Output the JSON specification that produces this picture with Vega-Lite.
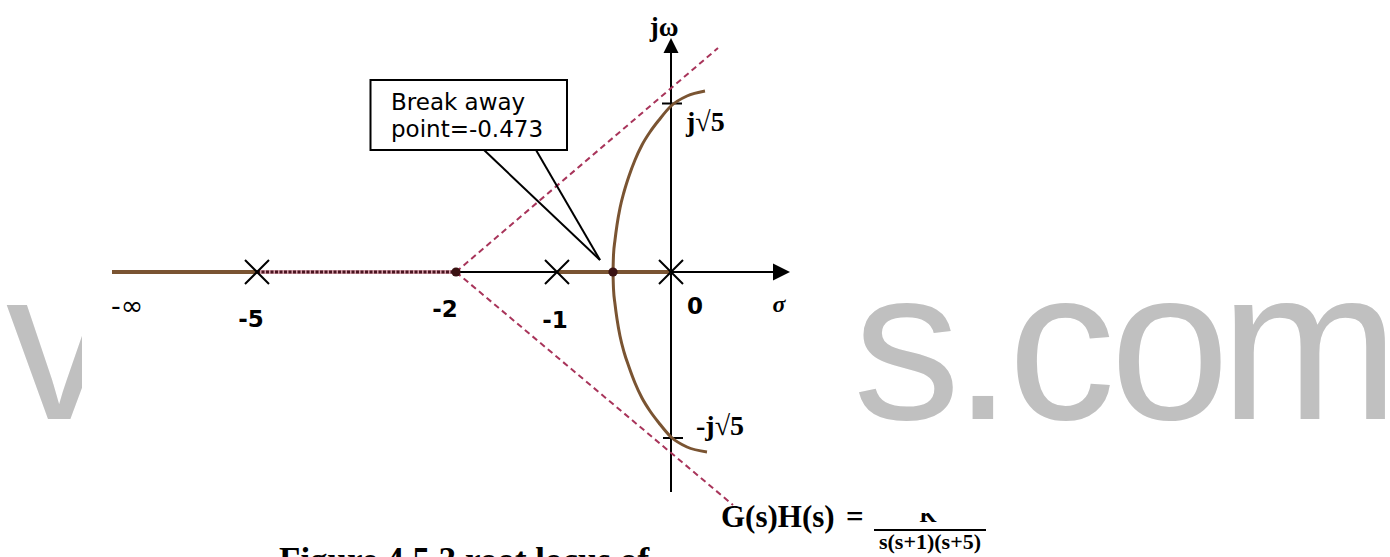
{
  "$schema": "https://vega.github.io/schema/vega-lite/v6.json",
  "width": 1390,
  "height": 557,
  "padding": 0,
  "autosize": {"type": "none"},
  "background": "white",
  "config": {"view": {"stroke": null}},
  "datasets": {
    "segments": [
      {"kind": "axis", "x": -559, "y": 0, "x2": 110, "y2": 0},
      {"kind": "axis", "x": 0, "y": -220, "x2": 0, "y2": 225},
      {"kind": "axis", "x": -9, "y": 168.5, "x2": 11, "y2": 168.5},
      {"kind": "axis", "x": -8, "y": -166, "x2": 12, "y2": -166},
      {"kind": "brown", "x": -559, "y": 0, "x2": -414, "y2": 0},
      {"kind": "brown", "x": -114, "y": 0, "x2": 0, "y2": 0},
      {"kind": "reddot", "x": -414, "y": 0, "x2": -215, "y2": 0},
      {"kind": "asym", "x": -215, "y": 0, "x2": 47, "y2": 224},
      {"kind": "asym", "x": -215, "y": 0, "x2": 62, "y2": -233},
      {"kind": "callout", "x": -187, "y": 122, "x2": -71, "y2": 12},
      {"kind": "callout", "x": -135, "y": 122, "x2": -71, "y2": 12},
      {"kind": "fracbar", "x": 203, "y": -258, "x2": 315, "y2": -258}
    ],
    "curves": [
      {"branch": "upper", "i": 0, "x": -58, "y": 0},
      {"branch": "upper", "i": 1, "x": -57.5, "y": 17},
      {"branch": "upper", "i": 2, "x": -56, "y": 32},
      {"branch": "upper", "i": 3, "x": -54, "y": 47},
      {"branch": "upper", "i": 4, "x": -51, "y": 64},
      {"branch": "upper", "i": 5, "x": -47, "y": 80},
      {"branch": "upper", "i": 6, "x": -42, "y": 96},
      {"branch": "upper", "i": 7, "x": -36, "y": 112},
      {"branch": "upper", "i": 8, "x": -29, "y": 127},
      {"branch": "upper", "i": 9, "x": -21, "y": 140},
      {"branch": "upper", "i": 10, "x": -12, "y": 152},
      {"branch": "upper", "i": 11, "x": 0, "y": 166},
      {"branch": "upper", "i": 12, "x": 16, "y": 176},
      {"branch": "upper", "i": 13, "x": 34, "y": 181},
      {"branch": "lower", "i": 0, "x": -58, "y": 0},
      {"branch": "lower", "i": 1, "x": -57.5, "y": -17},
      {"branch": "lower", "i": 2, "x": -56, "y": -32},
      {"branch": "lower", "i": 3, "x": -54, "y": -47},
      {"branch": "lower", "i": 4, "x": -51, "y": -64},
      {"branch": "lower", "i": 5, "x": -47, "y": -80},
      {"branch": "lower", "i": 6, "x": -42, "y": -95},
      {"branch": "lower", "i": 7, "x": -36, "y": -111},
      {"branch": "lower", "i": 8, "x": -29, "y": -126},
      {"branch": "lower", "i": 9, "x": -21, "y": -139},
      {"branch": "lower", "i": 10, "x": -12, "y": -151},
      {"branch": "lower", "i": 11, "x": 0, "y": -165},
      {"branch": "lower", "i": 12, "x": 16, "y": -175},
      {"branch": "lower", "i": 13, "x": 36, "y": -180}
    ],
    "points": [
      {"kind": "pole", "x": -414, "y": 0},
      {"kind": "pole", "x": -114, "y": 0},
      {"kind": "pole", "x": 0, "y": 0},
      {"kind": "dot", "x": -215, "y": 0},
      {"kind": "dot", "x": -58, "y": 0},
      {"kind": "arrowRight", "x": 110.5, "y": 0},
      {"kind": "arrowUp", "x": 0, "y": 226.5}
    ],
    "rects": [
      {"kind": "cover", "x": -589, "x2": 126, "y": -285, "y2": 272},
      {"kind": "box", "x": -300.5, "x2": -104, "y": 122, "y2": 192},
      {"kind": "cover", "x": 244, "x2": 272, "y": -241, "y2": -226}
    ],
    "texts": [
      {"group": "wm", "label": "v", "x": -665, "y": -147},
      {"group": "wm", "label": "s", "x": 182, "y": -147},
      {"group": "wm", "label": ".", "x": 282, "y": -147},
      {"group": "wm", "label": "c", "x": 337, "y": -147},
      {"group": "wm", "label": "o", "x": 439, "y": -147},
      {"group": "wm", "label": "m", "x": 549, "y": -147},
      {"group": "tick", "label": "-5", "x": -420, "y": -48},
      {"group": "tick", "label": "-2", "x": -226, "y": -38},
      {"group": "tick", "label": "-1", "x": -116, "y": -49},
      {"group": "tick", "label": "0", "x": 24, "y": -35},
      {"group": "inf", "label": "-∞", "x": -560, "y": -35},
      {"group": "sigma", "label": "σ", "x": 108, "y": -33},
      {"group": "jw", "label": "jω", "x": -7, "y": 244},
      {"group": "jroot", "label": "j√5", "x": 15, "y": 141},
      {"group": "jroot", "label": "-j√5", "x": 25, "y": -163},
      {"group": "box", "label": "Break away", "x": -280, "y": 162},
      {"group": "box", "label": "point=-0.473", "x": -280, "y": 135},
      {"group": "formula", "label": "G(s)H(s)", "x": 50, "y": -255},
      {"group": "formula", "label": "=", "x": 175, "y": -255},
      {"group": "num", "label": "K", "x": 257, "y": -250},
      {"group": "denom", "label": "s(s+1)(s+5)", "x": 259, "y": -277},
      {"group": "caption", "label": "Figure 4.5.3 root locus of", "x": -392, "y": -300}
    ]
  },
  "encoding": {
    "x": {"field": "x", "type": "quantitative", "scale": {"domain": [-671, 719], "nice": false, "zero": false}, "axis": null},
    "y": {"field": "y", "type": "quantitative", "scale": {"domain": [-285, 272], "nice": false, "zero": false}, "axis": null}
  },
  "layer": [
    {
      "data": {"name": "texts"},
      "transform": [{"filter": "datum.group === 'wm'"}],
      "mark": {"type": "text", "font": "Liberation Sans", "fontSize": 215, "color": "#c0c0c0", "align": "left", "baseline": "alphabetic"},
      "encoding": {"text": {"field": "label"}}
    },
    {
      "data": {"name": "rects"},
      "transform": [{"filter": "datum.kind === 'cover'"}],
      "mark": {"type": "rect", "fill": "white", "stroke": null},
      "encoding": {"x2": {"field": "x2"}, "y2": {"field": "y2"}}
    },
    {
      "data": {"name": "segments"},
      "transform": [{"filter": "datum.kind === 'axis'"}],
      "mark": {"type": "rule", "color": "black", "strokeWidth": 2},
      "encoding": {"x2": {"field": "x2"}, "y2": {"field": "y2"}}
    },
    {
      "data": {"name": "segments"},
      "transform": [{"filter": "datum.kind === 'reddot'"}],
      "mark": {"type": "rule", "color": "#d8a3ad", "strokeWidth": 4},
      "encoding": {"x2": {"field": "x2"}, "y2": {"field": "y2"}}
    },
    {
      "data": {"name": "segments"},
      "transform": [{"filter": "datum.kind === 'reddot'"}],
      "mark": {"type": "rule", "color": "#4a1420", "strokeWidth": 3, "strokeDash": [3, 1.5]},
      "encoding": {"x2": {"field": "x2"}, "y2": {"field": "y2"}}
    },
    {
      "data": {"name": "segments"},
      "transform": [{"filter": "datum.kind === 'brown'"}],
      "mark": {"type": "rule", "color": "#7a5432", "strokeWidth": 4},
      "encoding": {"x2": {"field": "x2"}, "y2": {"field": "y2"}}
    },
    {
      "data": {"name": "segments"},
      "transform": [{"filter": "datum.kind === 'asym'"}],
      "mark": {"type": "rule", "color": "#a8345a", "strokeWidth": 2, "strokeDash": [6, 4]},
      "encoding": {"x2": {"field": "x2"}, "y2": {"field": "y2"}}
    },
    {
      "data": {"name": "curves"},
      "mark": {"type": "line", "color": "#7a5432", "strokeWidth": 3, "interpolate": "monotone"},
      "encoding": {"detail": {"field": "branch"}, "order": {"field": "i", "type": "quantitative"}}
    },
    {
      "data": {"name": "segments"},
      "transform": [{"filter": "datum.kind === 'callout' || datum.kind === 'fracbar'"}],
      "mark": {"type": "rule", "color": "black", "strokeWidth": 2},
      "encoding": {"x2": {"field": "x2"}, "y2": {"field": "y2"}}
    },
    {
      "data": {"name": "rects"},
      "transform": [{"filter": "datum.kind === 'box'"}],
      "mark": {"type": "rect", "fill": "white", "stroke": "black", "strokeWidth": 2},
      "encoding": {"x2": {"field": "x2"}, "y2": {"field": "y2"}}
    },
    {
      "data": {"name": "points"},
      "transform": [{"filter": "datum.kind === 'pole'"}],
      "mark": {"type": "point", "shape": "M-1,-1L1,1M-1,1L1,-1", "size": 576, "filled": false, "stroke": "black", "strokeWidth": 2, "opacity": 1}
    },
    {
      "data": {"name": "points"},
      "transform": [{"filter": "datum.kind === 'dot'"}],
      "mark": {"type": "point", "shape": "circle", "size": 85, "filled": true, "color": "#3a1212", "opacity": 1}
    },
    {
      "data": {"name": "points"},
      "transform": [{"filter": "datum.kind === 'arrowRight'"}],
      "mark": {"type": "point", "shape": "M-1,-1L1,0L-1,1Z", "size": 289, "filled": true, "color": "black", "opacity": 1}
    },
    {
      "data": {"name": "points"},
      "transform": [{"filter": "datum.kind === 'arrowUp'"}],
      "mark": {"type": "point", "shape": "M-1,1L0,-1L1,1Z", "size": 225, "filled": true, "color": "black", "opacity": 1}
    },
    {
      "data": {"name": "texts"},
      "transform": [{"filter": "datum.group === 'tick'"}],
      "mark": {"type": "text", "font": "DejaVu Sans", "fontWeight": "bold", "fontSize": 23, "color": "black", "align": "center", "baseline": "middle"},
      "encoding": {"text": {"field": "label"}}
    },
    {
      "data": {"name": "texts"},
      "transform": [{"filter": "datum.group === 'inf'"}],
      "mark": {"type": "text", "font": "DejaVu Sans", "fontSize": 27, "color": "black", "align": "left", "baseline": "middle"},
      "encoding": {"text": {"field": "label"}}
    },
    {
      "data": {"name": "texts"},
      "transform": [{"filter": "datum.group === 'sigma'"}],
      "mark": {"type": "text", "font": "Liberation Serif", "fontStyle": "italic", "fontWeight": "bold", "fontSize": 24, "color": "black", "align": "center", "baseline": "middle"},
      "encoding": {"text": {"field": "label"}}
    },
    {
      "data": {"name": "texts"},
      "transform": [{"filter": "datum.group === 'jw'"}],
      "mark": {"type": "text", "font": "Liberation Serif", "fontWeight": "bold", "fontSize": 27, "color": "black", "align": "center", "baseline": "middle"},
      "encoding": {"text": {"field": "label"}}
    },
    {
      "data": {"name": "texts"},
      "transform": [{"filter": "datum.group === 'jroot'"}],
      "mark": {"type": "text", "font": "Liberation Serif", "fontWeight": "bold", "fontSize": 28, "color": "black", "align": "left", "baseline": "alphabetic"},
      "encoding": {"text": {"field": "label"}}
    },
    {
      "data": {"name": "texts"},
      "transform": [{"filter": "datum.group === 'box'"}],
      "mark": {"type": "text", "font": "DejaVu Sans", "fontSize": 23, "color": "black", "align": "left", "baseline": "alphabetic"},
      "encoding": {"text": {"field": "label"}}
    },
    {
      "data": {"name": "texts"},
      "transform": [{"filter": "datum.group === 'formula'"}],
      "mark": {"type": "text", "font": "Liberation Serif", "fontWeight": "bold", "fontSize": 31, "color": "black", "align": "left", "baseline": "alphabetic"},
      "encoding": {"text": {"field": "label"}}
    },
    {
      "data": {"name": "texts"},
      "transform": [{"filter": "datum.group === 'num' || datum.group === 'denom'"}],
      "mark": {"type": "text", "font": "Liberation Serif", "fontWeight": "bold", "fontSize": 22, "color": "black", "align": "center", "baseline": "alphabetic"},
      "encoding": {"text": {"field": "label"}}
    },
    {
      "data": {"name": "rects"},
      "transform": [{"filter": "datum.kind === 'cover' && datum.x > 0"}],
      "mark": {"type": "rect", "fill": "white", "stroke": null},
      "encoding": {"x2": {"field": "x2"}, "y2": {"field": "y2"}}
    },
    {
      "data": {"name": "texts"},
      "transform": [{"filter": "datum.group === 'caption'"}],
      "mark": {"type": "text", "font": "Liberation Serif", "fontWeight": "bold", "fontSize": 35, "color": "black", "align": "left", "baseline": "alphabetic"},
      "encoding": {"text": {"field": "label"}}
    }
  ]
}
